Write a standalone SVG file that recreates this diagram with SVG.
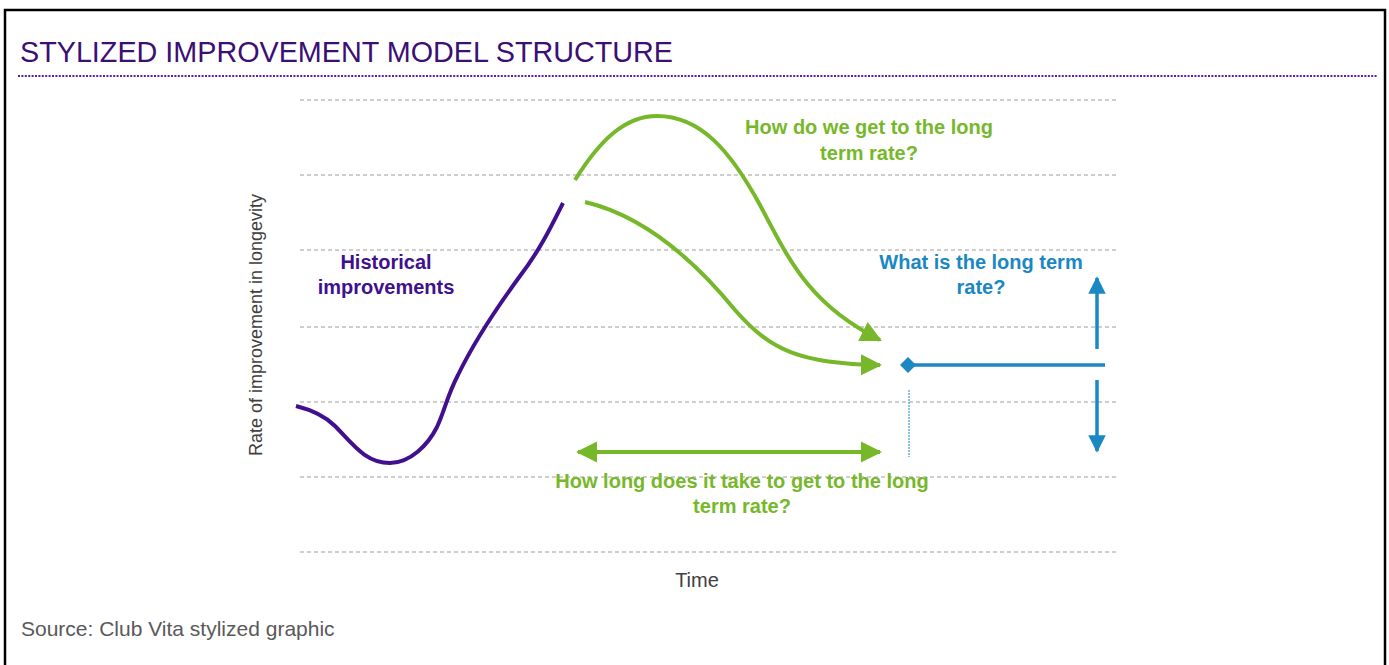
<svg xmlns="http://www.w3.org/2000/svg" width="1389" height="665" viewBox="0 0 1389 665">
<defs>
<style>
.grid{stroke:#bfbfbf;stroke-width:1.5;stroke-dasharray:4 3;fill:none}
.t{font-family:"Liberation Sans",Arial,sans-serif}
.b{font-weight:bold;font-size:20px;text-anchor:middle}
.green{fill:#76b82a}
.blue{fill:#1b87c3}
.purple{fill:#40108f}
.gline{stroke:#76b82a;stroke-width:4;fill:none}
.bline{stroke:#1b87c3;stroke-width:3.5;fill:none}
</style>
<marker id="ga" viewBox="0 0 10 10" refX="9" refY="5" markerWidth="5.3" markerHeight="5.3" markerUnits="strokeWidth" orient="auto-start-reverse"><path d="M0,0 L10,5 L0,10 z" fill="#76b82a"/></marker>
<marker id="ba" viewBox="0 0 10 10" refX="9" refY="5" markerWidth="5" markerHeight="5" markerUnits="strokeWidth" orient="auto"><path d="M0,0 L10,5 L0,10 z" fill="#1b87c3"/></marker>
</defs>
<rect x="0" y="0" width="1389" height="665" fill="#fff"/>
<rect x="5" y="10" width="1380" height="670" fill="none" stroke="#000" stroke-width="2.5"/>
<text class="t" x="20" y="62" font-size="29" fill="#3b0f73" textLength="653" lengthAdjust="spacingAndGlyphs">STYLIZED IMPROVEMENT MODEL STRUCTURE</text>
<line x1="18" y1="76" x2="1378" y2="76" stroke="#5a1fa8" stroke-width="2" stroke-dasharray="2 1.4"/>
<g id="grid">
<line class="grid" x1="300" y1="100" x2="1118" y2="100"/>
<line class="grid" x1="300" y1="175" x2="1118" y2="175"/>
<line class="grid" x1="300" y1="250" x2="1118" y2="250"/>
<line class="grid" x1="300" y1="327" x2="1118" y2="327"/>
<line class="grid" x1="300" y1="402" x2="1118" y2="402"/>
<line class="grid" x1="300" y1="477" x2="1118" y2="477"/>
<line class="grid" x1="300" y1="552" x2="1118" y2="552"/>
</g>
<text class="t" x="0" y="0" font-size="18" fill="#404040" text-anchor="middle" transform="translate(262,325) rotate(-90)">Rate of improvement in longevity</text>
<text class="t" x="697" y="587" font-size="20" fill="#404040" text-anchor="middle">Time</text>
<g id="historical">
<path d="M296,406 C312,410 325,416 335,426 C352,443 365,463 390,463 C410,463 428,445 437,427 C445,410 447,396 458,375 C475,340 498,306 520,276 C540,250 552,225 563,203" stroke="#40108f" stroke-width="4" fill="none" stroke-linecap="butt"/>
<text class="t b purple" x="386" y="269">Historical</text>
<text class="t b purple" x="386" y="294">improvements</text>
</g>
<g id="connectors">
<path class="gline" marker-end="url(#ga)" d="M575,180 C600,140 625,116 657,116 C700,116 730,150 760,205 C790,262 810,305 880,340"/>
<path class="gline" marker-end="url(#ga)" d="M585,202 C640,215 690,255 735,310 C770,350 800,364 880,365"/>
<line class="gline" marker-start="url(#ga)" marker-end="url(#ga)" x1="578" y1="452" x2="880" y2="452"/>
<line x1="909" y1="390" x2="909" y2="457" stroke="#1b87c3" stroke-width="1" stroke-dasharray="2 1"/>
<line class="bline" x1="910" y1="365" x2="1105" y2="365"/>
<path d="M900,365 L908,357 L916,365 L908,373 z" fill="#1b87c3"/>
<line class="bline" marker-end="url(#ba)" x1="1097" y1="349" x2="1097" y2="278"/>
<line class="bline" marker-end="url(#ba)" x1="1097" y1="380" x2="1097" y2="451"/>
</g>
<g id="q1">
<text class="t b green" x="869" y="134">How do we get to the long</text>
<text class="t b green" x="869" y="160">term rate?</text>
</g>
<g id="q2">
<text class="t b blue" x="981" y="269">What is the long term</text>
<text class="t b blue" x="981" y="294">rate?</text>
</g>
<g id="q3">
<text class="t b green" x="742" y="488">How long does it take to get to the long</text>
<text class="t b green" x="742" y="513">term rate?</text>
</g>
<text class="t" x="21" y="636" font-size="21" fill="#595959">Source: Club Vita stylized graphic</text>
</svg>
